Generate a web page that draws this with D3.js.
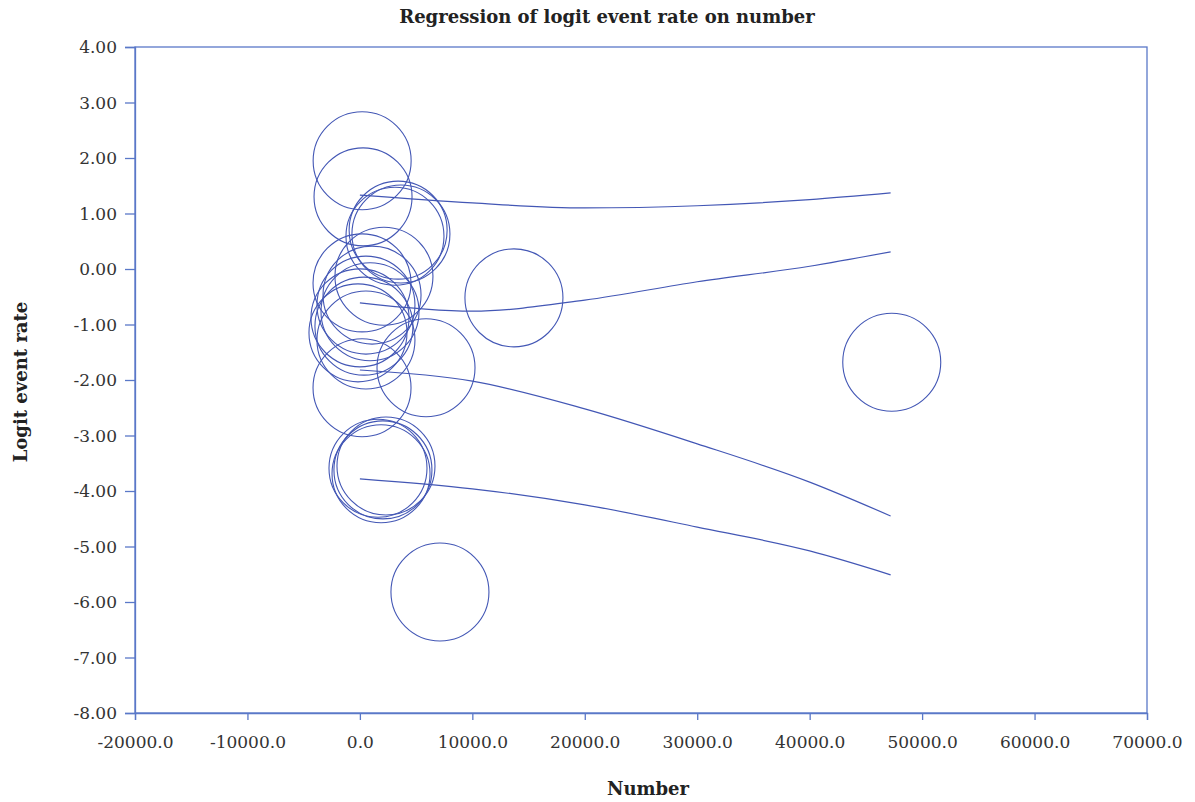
<!DOCTYPE html>
<html>
<head>
<meta charset="utf-8">
<script src="https://cdn.jsdelivr.net/npm/d3@7"></script>
<style>
  body { margin: 0; background: #fff; }
  text { font-family: 'DejaVu Serif', serif; }
</style>
</head>
<body>
<svg id="chart" width="1195" height="802"></svg>
<script>
// study points: number (x), logit event rate (y)
const studyNumber = [200, 280, 3400, 3120, 3650, 2140, 13700, 47300, 5880, 190, 7120,
  1610, 2050, 2320, 1880, 190, 1080, 540, 10, 360, -170, 540, 900];
const studyLogit = [1.95, 1.30, 0.70, 0.59, 0.63, -0.13, -0.52, -1.68, -1.78, -2.14, -5.82,
  -3.59, -3.62, -3.55, -3.69, -0.25, -0.47, -0.65, -0.88, -1.03, -1.15, -1.28, -0.77];

// interval curves, read at these x positions
const curveX = [0, 10000, 20000, 30000, 40000, 47200];
const upperOuter = [1.33, 1.19, 1.10, 1.14, 1.25, 1.37];
const upperInner = [-0.61, -0.76, -0.56, -0.23, 0.05, 0.31];
const lowerInner = [-1.82, -2.02, -2.52, -3.15, -3.84, -4.45];
const lowerOuter = [-3.78, -3.96, -4.25, -4.65, -5.08, -5.51];

const xTicks = [-20000, -10000, 0, 10000, 20000, 30000, 40000, 50000, 60000, 70000];
const yTicks = [4, 3, 2, 1, 0, -1, -2, -3, -4, -5, -6, -7, -8];

const margin = { left: 135, right: 48, top: 47, bottom: 89 };
const width = 1195, height = 802;
const blue = '#4357b5';
const axisBlue = '#5a78c8';

const svg = d3.select('#chart');

const x = d3.scaleLinear().domain([-20000, 70000]).range([margin.left, width - margin.right]);
const y = d3.scaleLinear().domain([-8, 4]).range([height - margin.bottom, margin.top]);

// plain hyphen for negatives, like the original
const fmt = spec => {
  const f = d3.format(spec);
  return d => f(d).replace('\u2212', '-');
};

// title
svg.append('text')
  .attr('x', 607).attr('y', 23)
  .attr('text-anchor', 'middle')
  .attr('font-size', 18).attr('font-weight', 'bold')
  .attr('fill', '#222')
  .text('Regression of logit event rate on number');

// frame
svg.append('rect')
  .attr('x', x(-20000)).attr('y', y(4))
  .attr('width', x(70000) - x(-20000)).attr('height', y(-8) - y(4))
  .attr('fill', 'none').attr('stroke', axisBlue).attr('stroke-width', 1.3);

const xAxis = svg.append('g')
  .attr('transform', `translate(0,${y(-8)})`)
  .call(d3.axisBottom(x).tickValues(xTicks).tickFormat(fmt('.1f')).tickSize(7).tickPadding(16));

const yAxis = svg.append('g')
  .attr('transform', `translate(${x(-20000)},0)`)
  .call(d3.axisLeft(y).tickValues(yTicks).tickFormat(fmt('.2f')).tickSize(10).tickPadding(8));

[xAxis, yAxis].forEach(g => {
  g.select('.domain').attr('stroke', axisBlue).attr('stroke-width', 1.3);
  g.selectAll('.tick line').attr('stroke', axisBlue).attr('stroke-width', 1.3);
  g.selectAll('.tick text')
    .attr('font-family', "'DejaVu Serif', serif")
    .attr('font-size', 17)
    .attr('fill', '#333');
});
yAxis.selectAll('.tick text').attr('dy', '0.35em');

// axis titles
svg.append('text')
  .attr('x', 648).attr('y', 795)
  .attr('text-anchor', 'middle')
  .attr('font-size', 18).attr('font-weight', 'bold').attr('fill', '#222')
  .text('Number');

svg.append('text')
  .attr('transform', 'translate(27,382) rotate(-90)')
  .attr('text-anchor', 'middle')
  .attr('font-size', 18).attr('font-weight', 'bold').attr('fill', '#222')
  .text('Logit event rate');

// curves
const line = d3.line()
  .curve(d3.curveMonotoneX)
  .x((d, i) => x(curveX[i]))
  .y(d => y(d));

svg.append('g')
  .selectAll('path')
  .data([upperOuter, upperInner, lowerInner, lowerOuter])
  .join('path')
  .attr('fill', 'none')
  .attr('stroke', blue)
  .attr('stroke-width', 1.2)
  .attr('d', d => line(d));

// studies
svg.append('g')
  .selectAll('circle')
  .data(studyNumber)
  .join('circle')
  .attr('cx', d => x(d))
  .attr('cy', (d, i) => y(studyLogit[i]))
  .attr('r', 49)
  .attr('fill', 'none')
  .attr('stroke', blue)
  .attr('stroke-width', 1.1);
</script>
</body>
</html>
